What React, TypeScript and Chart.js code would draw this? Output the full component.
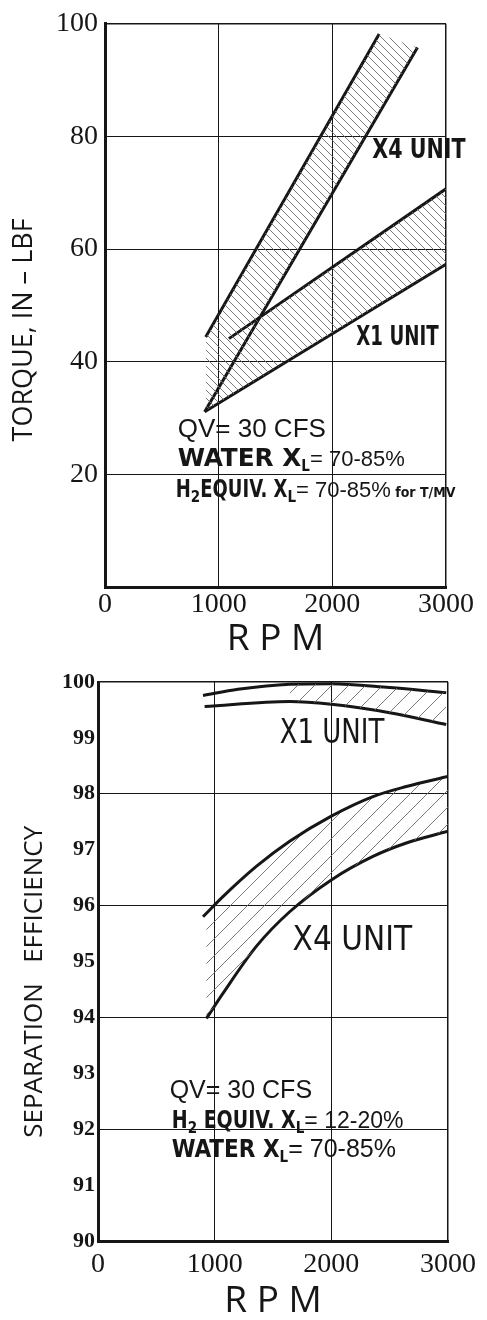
import React, { useEffect, useRef } from 'react';
import { Chart, registerables } from 'chart.js';

Chart.register(...registerables);

// ---------- Torque chart (top) ----------
const RPM_TICKS = [0, 1000, 2000, 3000];
const TORQUE_TICKS = [0, 20, 40, 60, 80, 100];

const TQ_X4_HI_RPM = [886, 2412];
const TQ_X4_HI = [44.4, 98.2];
const TQ_X4_LO_RPM = [877, 2749];
const TQ_X4_LO = [31.1, 95.8];
const TQ_X1_HI_RPM = [1090, 3000];
const TQ_X1_HI = [44.1, 70.7];
const TQ_X1_LO_RPM = [877, 3000];
const TQ_X1_LO = [31.1, 57.3];
// hatched band outlines
const TQ_X4_BAND_RPM = [886, 2412, 2749];
const TQ_X4_BAND = [44.4, 98.2, 95.8];
const TQ_X1_BAND_RPM = [877, 1090, 3000];
const TQ_X1_BAND = [31.1, 44.1, 70.7];

// ---------- Separation efficiency chart (bottom) ----------
const EFF_TICKS = [90, 91, 92, 93, 94, 95, 96, 97, 98, 99, 100];

const EF_X1_HI_RPM = [900, 1200, 1643, 2000, 2500, 2985];
const EF_X1_HI = [99.76, 99.87, 99.96, 99.97, 99.9, 99.81];
const EF_X1_LO_RPM = [914, 1643, 2000, 2500, 2985];
const EF_X1_LO = [99.56, 99.65, 99.6, 99.45, 99.24];
const EF_X1_BAND_RPM = [1643, 2000, 2500, 2985];
const EF_X1_BAND = [99.96, 99.97, 99.9, 99.81];

const EF_X4_HI_RPM = [900, 1071, 1357, 1643, 2000, 2357, 2643, 3000];
const EF_X4_HI = [95.8, 96.16, 96.7, 97.15, 97.6, 97.95, 98.13, 98.31];
const EF_X4_LO_RPM = [929, 1071, 1357, 1643, 2000, 2357, 2643, 3000];
const EF_X4_LO = [93.98, 94.43, 95.27, 95.89, 96.46, 96.88, 97.12, 97.33];

const pts = (xs: number[], ys: number[]) => xs.map((x, i) => ({ x, y: ys[i] }));

const INK = '#161616';
const SERIF = '"Liberation Serif", "DejaVu Serif", serif';
const SANS = '"Liberation Sans", "DejaVu Sans", sans-serif';
const NARROW = '"DejaVu Sans Condensed", "DejaVu Sans", sans-serif';
const TITLE = '"Open Sans", "DejaVu Sans", sans-serif';

type Part = { t: string; f: string; dy?: number; sx?: number };
type Note = { x: number; y: number; parts: Part[] };

const notesPlugin = {
  id: 'notes',
  afterDatasetsDraw(chart: any, _args: any, opts: any) {
    const items: Note[] = (opts && opts.items) || [];
    const { ctx } = chart;
    const xs = chart.scales.x;
    const ys = chart.scales.y;
    ctx.save();
    ctx.fillStyle = INK;
    ctx.textBaseline = 'alphabetic';
    ctx.textAlign = 'left';
    for (const it of items) {
      let px = xs.getPixelForValue(it.x);
      const py = ys.getPixelForValue(it.y);
      for (const p of it.parts) {
        const sx = p.sx || 1;
        ctx.font = p.f;
        ctx.save();
        ctx.translate(px, py + (p.dy || 0));
        ctx.scale(sx, 1);
        ctx.fillText(p.t, 0, 0);
        ctx.restore();
        px += ctx.measureText(p.t).width * sx;
      }
    }
    ctx.restore();
  },
};

function makeHatch(target: HTMLCanvasElement, size: number, forward: boolean, color: string, lw: number) {
  const c = document.createElement('canvas');
  c.width = size;
  c.height = size;
  const g = c.getContext('2d')!;
  g.strokeStyle = color;
  g.lineWidth = lw;
  g.beginPath();
  if (forward) {
    g.moveTo(-1, size + 1);
    g.lineTo(size + 1, -1);
    g.moveTo(-1, 1);
    g.lineTo(1, -1);
    g.moveTo(size - 1, size + 1);
    g.lineTo(size + 1, size - 1);
  } else {
    g.moveTo(-1, -1);
    g.lineTo(size + 1, size + 1);
    g.moveTo(-1, size - 1);
    g.lineTo(1, size + 1);
    g.moveTo(size - 1, -1);
    g.lineTo(size + 1, 1);
  }
  g.stroke();
  return target.getContext('2d')!.createPattern(c, 'repeat');
}

const lineDs = (data: any[], extra: any = {}) => ({
  data,
  borderColor: INK,
  borderWidth: 3,
  pointRadius: 0,
  fill: false,
  tension: 0,
  ...extra,
});

const bandDs = (data: any[], fillTo: number, pattern: any, extra: any = {}) => ({
  data,
  borderColor: 'rgba(0,0,0,0)',
  borderWidth: 0,
  pointRadius: 0,
  backgroundColor: pattern,
  fill: fillTo,
  tension: 0,
  ...extra,
});

const NB = '\u00a0';

function TorqueChart() {
  const ref = useRef<HTMLCanvasElement>(null);
  useEffect(() => {
    const cv = ref.current!;
    const pat = makeHatch(cv, 8, false, '#6a6a6a', 0.9);
    const chart = new Chart(cv, {
      type: 'line',
      data: {
        datasets: [
          bandDs(pts(TQ_X4_BAND_RPM, TQ_X4_BAND), 2, pat),
          bandDs(pts(TQ_X1_BAND_RPM, TQ_X1_BAND), 4, pat),
          lineDs(pts(TQ_X4_LO_RPM, TQ_X4_LO)),
          lineDs(pts(TQ_X4_HI_RPM, TQ_X4_HI)),
          lineDs(pts(TQ_X1_LO_RPM, TQ_X1_LO)),
          lineDs(pts(TQ_X1_HI_RPM, TQ_X1_HI)),
        ] as any,
      },
      options: {
        responsive: false,
        animation: false,
        events: [],
        layout: { padding: { top: 23, right: 41, left: 0, bottom: 0 } },
        plugins: {
          legend: { display: false },
          tooltip: { enabled: false },
          notes: {
            items: [
              { x: 2351, y: 76.2, parts: [{ t: 'X4 UNIT', f: `bold 27px ${NARROW}`, sx: 0.85 }] },
              { x: 2211, y: 42.9, parts: [{ t: 'X1 UNIT', f: `bold 27px ${NARROW}`, sx: 0.75 }] },
              { x: 640, y: 26.6, parts: [{ t: 'QV= 30 CFS', f: `26px ${SANS}` }] },
              {
                x: 640,
                y: 21.4,
                parts: [
                  { t: 'WATER X', f: `bold 25px ${NARROW}`, sx: 1.1 },
                  { t: 'L', f: `bold 15px ${NARROW}`, dy: 5 },
                  { t: '= 70-85%', f: `22px ${SANS}` },
                ],
              },
              {
                x: 623,
                y: 16.0,
                parts: [
                  { t: 'H', f: `bold 25px ${NARROW}`, sx: 0.8 },
                  { t: '2', f: `bold 15px ${NARROW}`, dy: 5 },
                  { t: 'EQUIV. X', f: `bold 25px ${NARROW}`, sx: 0.8 },
                  { t: 'L', f: `bold 15px ${NARROW}`, dy: 5 },
                  { t: '= 70-85%', f: `22px ${SANS}` },
                  { t: ' for T/MV', f: `bold 14px ${NARROW}` },
                ],
              },
            ],
          },
        } as any,
        scales: {
          x: {
            type: 'linear',
            min: 0,
            max: 3000,
            afterBuildTicks: (s: any) => {
              s.ticks = RPM_TICKS.map((v) => ({ value: v }));
            },
            afterFit: (s: any) => {
              s.height = 73;
            },
            ticks: {
              color: INK,
              padding: 1,
              maxRotation: 0,
              font: { family: SERIF, size: 28 },
              callback: (v: any) => String(v),
            },
            grid: {
              color: INK,
              drawTicks: false,
              lineWidth: (c: any) => (c.tick && c.tick.value === 3000 ? 1.5 : 1),
            },
            border: { display: true, color: INK, width: 3 },
            title: {
              display: true,
              text: 'R P M',
              color: INK,
              font: { family: TITLE, size: 37, lineHeight: 1 },
              padding: { top: 0, bottom: 2 },
            },
          },
          y: {
            type: 'linear',
            min: 0,
            max: 100,
            afterBuildTicks: (s: any) => {
              s.ticks = TORQUE_TICKS.map((v) => ({ value: v }));
            },
            afterFit: (s: any) => {
              s.width = 105;
            },
            ticks: {
              color: INK,
              padding: 7,
              font: { family: SERIF, size: 28 },
              callback: (v: any) => (v === 0 ? '' : String(v)),
            },
            grid: {
              color: INK,
              drawTicks: false,
              lineWidth: (c: any) => (c.tick && c.tick.value === 100 ? 1.5 : 1),
            },
            border: { display: true, color: INK, width: 3 },
            title: {
              display: true,
              text: 'TORQUE, IN – LBF' + NB.repeat(7),
              color: INK,
              font: { family: TITLE, size: 27 },
              padding: { top: 8, bottom: 0 },
            },
          },
        },
      },
      plugins: [notesPlugin as any],
    });
    return () => chart.destroy();
  }, []);
  return <canvas ref={ref} width={487} height={660} style={{ display: 'block', width: 487, height: 660 }} />;
}

function EfficiencyChart() {
  const ref = useRef<HTMLCanvasElement>(null);
  useEffect(() => {
    const cv = ref.current!;
    const pat = makeHatch(cv, 17, true, '#6a6a6a', 0.9);
    const chart = new Chart(cv, {
      type: 'line',
      data: {
        datasets: [
          bandDs(pts(EF_X1_BAND_RPM, EF_X1_BAND), 3, pat, { cubicInterpolationMode: 'monotone' }),
          lineDs(pts(EF_X4_HI_RPM, EF_X4_HI), {
            cubicInterpolationMode: 'monotone',
            fill: 2,
            backgroundColor: pat,
          }),
          lineDs(pts(EF_X4_LO_RPM, EF_X4_LO), { cubicInterpolationMode: 'monotone' }),
          lineDs(pts(EF_X1_LO_RPM, EF_X1_LO), { cubicInterpolationMode: 'monotone' }),
          lineDs(pts(EF_X1_HI_RPM, EF_X1_HI), { cubicInterpolationMode: 'monotone' }),
        ] as any,
      },
      options: {
        responsive: false,
        animation: false,
        events: [],
        layout: { padding: { top: 22, right: 39, left: 0, bottom: 0 } },
        plugins: {
          legend: { display: false },
          tooltip: { enabled: false },
          notes: {
            items: [
              { x: 1557, y: 98.9, parts: [{ t: 'X1 UNIT', f: `34px ${NARROW}`, sx: 0.85 }] },
              { x: 1668, y: 95.21, parts: [{ t: 'X4 UNIT', f: `34px ${NARROW}`, sx: 0.97 }] },
              { x: 614, y: 92.55, parts: [{ t: 'QV= 30 CFS', f: `25px ${SANS}` }] },
              {
                x: 632,
                y: 92.03,
                parts: [
                  { t: 'H', f: `bold 24px ${NARROW}`, sx: 0.88 },
                  { t: '2', f: `bold 15px ${NARROW}`, dy: 5 },
                  { t: ' EQUIV. X', f: `bold 24px ${NARROW}`, sx: 0.88 },
                  { t: 'L', f: `bold 15px ${NARROW}`, dy: 5 },
                  { t: '= 12-20%', f: `23px ${SANS}` },
                ],
              },
              {
                x: 632,
                y: 91.5,
                parts: [
                  { t: 'WATER X', f: `bold 24px ${NARROW}` },
                  { t: 'L', f: `bold 15px ${NARROW}`, dy: 5 },
                  { t: '= 70-85%', f: `25px ${SANS}` },
                ],
              },
            ],
          },
        } as any,
        scales: {
          x: {
            type: 'linear',
            min: 0,
            max: 3000,
            afterBuildTicks: (s: any) => {
              s.ticks = RPM_TICKS.map((v) => ({ value: v }));
            },
            afterFit: (s: any) => {
              s.height = 79;
            },
            ticks: {
              color: INK,
              padding: 7,
              maxRotation: 0,
              font: { family: SERIF, size: 28 },
              callback: (v: any) => String(v),
            },
            grid: {
              color: INK,
              drawTicks: false,
              lineWidth: (c: any) => (c.tick && c.tick.value === 3000 ? 1.5 : 1),
            },
            border: { display: true, color: INK, width: 3 },
            title: {
              display: true,
              text: 'R P M',
              color: INK,
              font: { family: TITLE, size: 37, lineHeight: 1 },
              padding: { top: 0, bottom: 0 },
            },
          },
          y: {
            type: 'linear',
            min: 90,
            max: 100,
            afterBuildTicks: (s: any) => {
              s.ticks = EFF_TICKS.map((v) => ({ value: v }));
            },
            afterFit: (s: any) => {
              s.width = 98;
            },
            ticks: {
              color: INK,
              padding: 3,
              font: { family: SERIF, size: 22, weight: 'bold' },
              callback: (v: any) => String(v),
            },
            grid: {
              color: (c: any) => (c.tick && c.tick.value % 2 === 0 ? INK : 'rgba(0,0,0,0)'),
              drawTicks: false,
              lineWidth: (c: any) => (c.tick && c.tick.value === 100 ? 1.5 : 1),
            },
            border: { display: true, color: INK, width: 3 },
            title: {
              display: true,
              text: 'SEPARATION   EFFICIENCY' + NB.repeat(6),
              color: INK,
              font: { family: TITLE, size: 26 },
              padding: { top: 19, bottom: 0 },
            },
          },
        },
      },
      plugins: [notesPlugin as any],
    });
    return () => chart.destroy();
  }, []);
  return <canvas ref={ref} width={487} height={660} style={{ display: 'block', width: 487, height: 660 }} />;
}

export default function App() {
  return (
    <div style={{ position: 'absolute', left: 0, top: 0, width: 487, height: 1320, background: '#fff' }}>
      <TorqueChart />
      <EfficiencyChart />
    </div>
  );
}
